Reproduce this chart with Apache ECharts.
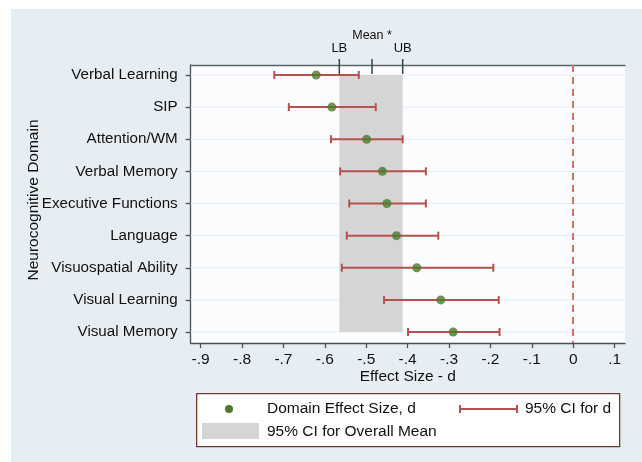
<!DOCTYPE html>
<html>
<head>
<meta charset="utf-8">
<script src="https://cdn.jsdelivr.net/npm/echarts@6/dist/echarts.min.js"></script>
<style>
html,body{margin:0;padding:0;background:#ffffff;}
#chart{position:absolute;left:11px;top:9px;width:631px;height:453px;}
</style>
</head>
<body>
<div id="chart"></div>
<script>
// ---- data ----
const categories = ["Verbal Learning","SIP","Attention/WM","Verbal Memory","Executive Functions","Language","Visuospatial Ability","Visual Learning","Visual Memory"];
const effectSize = [-0.621,-0.583,-0.499,-0.461,-0.450,-0.427,-0.378,-0.320,-0.290];
const ciLower    = [-0.722,-0.687,-0.585,-0.563,-0.541,-0.547,-0.559,-0.457,-0.399];
const ciUpper    = [-0.518,-0.477,-0.412,-0.356,-0.356,-0.326,-0.193,-0.180,-0.178];
const overallLB = -0.565;
const overallMean = -0.486;
const overallUB = -0.412;
const xTicks = [-0.9,-0.8,-0.7,-0.6,-0.5,-0.4,-0.3,-0.2,-0.1,0,0.1];
const rows = [1,2,3,4,5,6,7,8,9];

const X_MIN = -0.924, X_MAX = 0.125;
const Y_MIN = 0.689, Y_MAX = 9.342;
const FONT = '"Liberation Sans", Arial, Helvetica, sans-serif';
const FS = 15.5;
const AXIS_COLOR = '#3f5359';
const BAR_COLOR = '#b5524d';
const DOT_COLOR = '#4b7a2c';
const BAND_COLOR = '#d5d5d5';

function fmtTick(v){
  const r = Math.round(v*10)/10;
  if (r === 0) return '0';
  const s = Math.abs(r).toFixed(1).replace(/^0/, '');
  return (r < 0 ? '-' : '') + s;
}

const chart = echarts.init(document.getElementById('chart'), null, {renderer:'canvas'});

const option = {
  backgroundColor: '#e6eef3',
  animation: false,
  textStyle: {fontFamily: FONT},
  grid: {left: 179.7, right: 17, top: 56, bottom: 119, show: true, backgroundColor: '#fbfcfe', borderWidth: 0, containLabel: false, outerBoundsMode: 'none'},
  xAxis: [{
    type: 'value', position: 'bottom', min: X_MIN, max: X_MAX,
    name: 'Effect Size - d', nameLocation: 'middle', nameGap: 26, nameMoveOverlap: false,
    nameTextStyle: {fontFamily: FONT, fontSize: FS, color: '#111'},
    axisLine: {show: true, lineStyle: {color: AXIS_COLOR, width: 1.3}},
    axisTick: {show: true, length: 5, customValues: xTicks, lineStyle: {color: AXIS_COLOR, width: 1.3}},
    axisLabel: {show: true, customValues: xTicks, margin: 9, formatter: fmtTick, fontFamily: FONT, fontSize: FS, color: '#111'},
    splitLine: {show: false}
  },{
    type: 'value', position: 'top', min: X_MIN, max: X_MAX,
    axisLine: {show: true, onZero: false, lineStyle: {color: '#5a6468', width: 1.3}},
    axisTick: {show: false},
    axisLabel: {
      show: true, customValues: [overallLB, overallMean, overallUB], margin: 10,
      formatter: function(v){
        if (Math.abs(v-overallMean) < 1e-6) return '{m|Mean *}';
        if (Math.abs(v-overallLB) < 1e-6) return '{b|LB}';
        return '{b|UB}';
      },
      rich: {
        m: {fontFamily: FONT, fontSize: 12.5, color: '#111', padding: [0,0,13,0]},
        b: {fontFamily: FONT, fontSize: 13, color: '#111'}
      }
    },
    splitLine: {show: false}
  }],
  yAxis: {
    type: 'value', inverse: true, min: Y_MIN, max: Y_MAX,
    name: 'Neurocognitive Domain', nameLocation: 'middle', nameGap: 149, nameMoveOverlap: false,
    nameTextStyle: {fontFamily: FONT, fontSize: FS, color: '#111', padding: [0,0,0,8]},
    axisLine: {show: true, onZero: false, lineStyle: {color: AXIS_COLOR, width: 1.3}},
    axisTick: {show: true, length: 5, customValues: rows, lineStyle: {color: AXIS_COLOR, width: 1.3}},
    axisLabel: {show: true, customValues: rows, margin: 13, formatter: function(v){ return categories[Math.round(v)-1] || ''; }, fontFamily: FONT, fontSize: 15.2, color: '#111'},
    splitLine: {show: false}
  },
  series: [
    {
      // horizontal faint grid lines at each row
      type: 'custom', z: 1, silent: true, clip: false,
      data: rows.map(r => [r]),
      encode: {y: 0},
      renderItem: function(params, api){
        const r = api.value(0);
        const a = api.coord([X_MIN, r]);
        const b = api.coord([X_MAX, r]);
        return {type: 'line', shape: {x1: a[0], y1: a[1], x2: b[0], y2: b[1]}, style: {stroke: '#e3edf5', lineWidth: 1}};
      }
    },
    {
      // 95% CI band for the overall mean
      type: 'custom', z: 2, silent: true,
      data: [[overallLB, overallUB, rows[0], rows[rows.length-1]]],
      encode: {x: [0,1], y: [2,3]},
      renderItem: function(params, api){
        const p1 = api.coord([api.value(0), api.value(2)]);
        const p2 = api.coord([api.value(1), api.value(3)]);
        return {type: 'rect', shape: {x: p1[0], y: p1[1], width: p2[0]-p1[0], height: p2[1]-p1[1]}, style: {fill: BAND_COLOR}};
      },
      markLine: {
        silent: true, symbol: 'none', label: {show: false},
        lineStyle: {color: '#e06a6a', type: [7,5], width: 2},
        data: [{xAxis: 0}]
      }
    },
    {
      // top axis ticks (LB, Mean, UB) crossing the top frame
      type: 'custom', z: 5, silent: true, clip: false,
      data: [[overallLB],[overallMean],[overallUB]],
      encode: {x: 0},
      renderItem: function(params, api){
        const p = api.coord([api.value(0), Y_MIN]);
        return {type: 'line', shape: {x1: p[0], y1: p[1]-6, x2: p[0], y2: p[1]+9}, style: {stroke: '#2f4750', lineWidth: 1.5}};
      }
    },
    {
      // 95% CI error bars
      type: 'custom', z: 3, silent: true,
      data: rows.map((r,i) => [ciLower[i], ciUpper[i], r]),
      encode: {x: [0,1], y: 2},
      renderItem: function(params, api){
        const a = api.coord([api.value(0), api.value(2)]);
        const b = api.coord([api.value(1), api.value(2)]);
        const h = 4;
        const st = {stroke: BAR_COLOR, lineWidth: 2};
        return {type: 'group', children: [
          {type: 'line', shape: {x1: a[0], y1: a[1], x2: b[0], y2: b[1]}, style: st},
          {type: 'line', shape: {x1: a[0], y1: a[1]-h, x2: a[0], y2: a[1]+h}, style: st},
          {type: 'line', shape: {x1: b[0], y1: b[1]-h, x2: b[0], y2: b[1]+h}, style: st}
        ]};
      }
    },
    {
      type: 'scatter', z: 4, silent: true,
      symbol: 'circle', symbolSize: 9,
      itemStyle: {color: DOT_COLOR},
      data: rows.map((r,i) => [effectSize[i], r])
    }
  ],
  graphic: [
    {type: 'rect', left: 185, top: 384, shape: {width: 423, height: 53}, style: {fill: '#ffffff', stroke: '#6b3b32', lineWidth: 1.3}, z: 10},
    {type: 'circle', shape: {cx: 218, cy: 400, r: 4}, style: {fill: DOT_COLOR}, z: 11},
    {type: 'text', x: 256, y: 400, style: {text: 'Domain Effect Size, d', fontFamily: FONT, fontSize: FS, fill: '#111', verticalAlign: 'middle', align: 'left'}, z: 11},
    {type: 'line', shape: {x1: 449, y1: 400, x2: 506, y2: 400}, style: {stroke: BAR_COLOR, lineWidth: 2}, z: 11},
    {type: 'line', shape: {x1: 449, y1: 396, x2: 449, y2: 404}, style: {stroke: BAR_COLOR, lineWidth: 2}, z: 11},
    {type: 'line', shape: {x1: 506, y1: 396, x2: 506, y2: 404}, style: {stroke: BAR_COLOR, lineWidth: 2}, z: 11},
    {type: 'text', x: 514, y: 400, style: {text: '95% CI for d', fontFamily: FONT, fontSize: FS, fill: '#111', verticalAlign: 'middle', align: 'left'}, z: 11},
    {type: 'rect', shape: {x: 191, y: 414, width: 57, height: 16}, style: {fill: BAND_COLOR}, z: 11},
    {type: 'text', x: 256, y: 423, style: {text: '95% CI for Overall Mean', fontFamily: FONT, fontSize: FS, fill: '#111', verticalAlign: 'middle', align: 'left'}, z: 11}
  ]
};

chart.setOption(option);
</script>
</body>
</html>
